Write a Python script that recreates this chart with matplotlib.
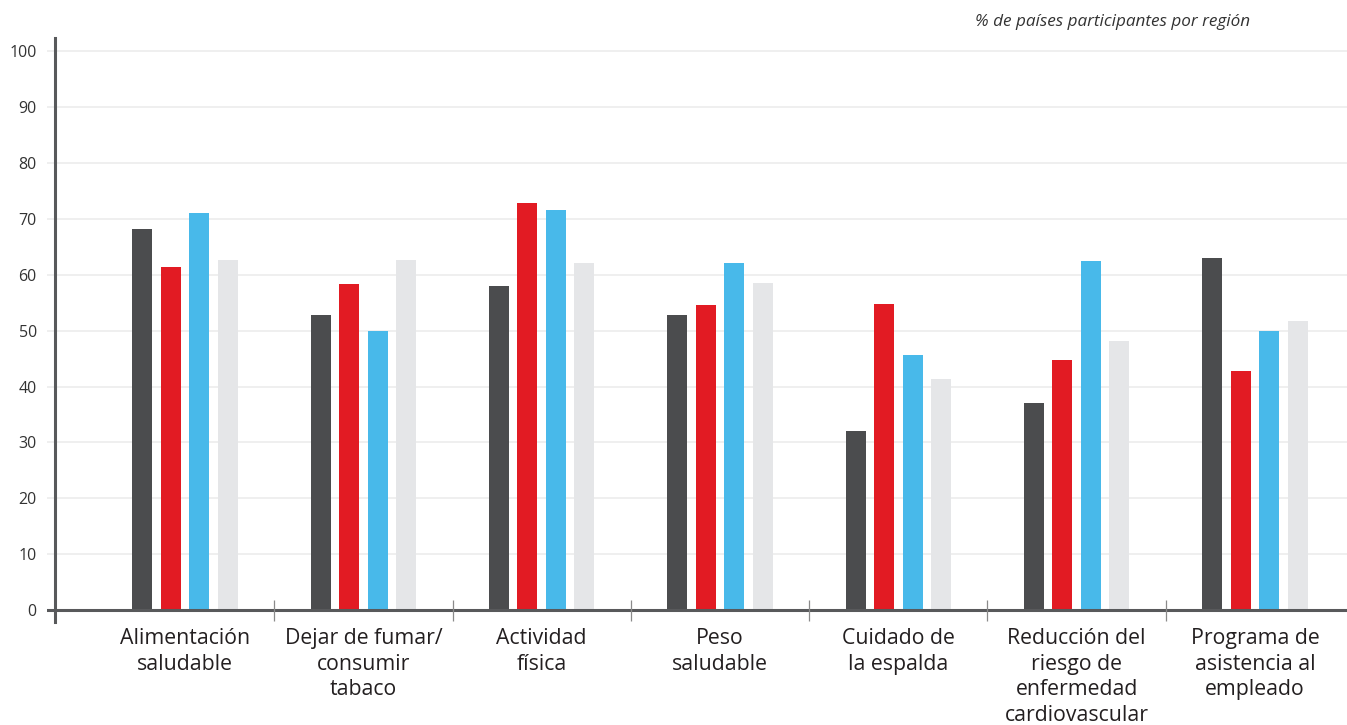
import numpy as np
import matplotlib.pyplot as plt

# categorias y valores (% de paises por region)
categories = ['Alimentación\nsaludable', 'Dejar de fumar/\nconsumir\ntabaco', 'Actividad\nfísica',
              'Peso\nsaludable', 'Cuidado de\nla espalda', 'Reducción del\nriesgo de\nenfermedad\ncardiovascular',
              'Programa de\nasistencia al\nempleado']
region_1 = [68.2, 52.8, 58.0, 52.8, 32.0, 37.0, 63.0]
region_2 = [61.4, 58.3, 72.8, 54.6, 54.7, 44.7, 42.8]
region_3 = [71.0, 49.9, 71.6, 62.1, 45.6, 62.4, 49.9]
region_4 = [62.6, 62.6, 62.1, 58.5, 41.3, 48.1, 51.7]
yticks = [0, 10, 20, 30, 40, 50, 60, 70, 80, 90, 100]

plt.rcParams['font.family'] = ['Open Sans', 'DejaVu Sans']

fig = plt.figure(figsize=(13.47, 7.25), dpi=100)
ax = fig.add_axes([47 / 1347, 103 / 725, 1 - 47 / 1347, (622 - 38) / 725])

x = np.arange(len(categories))
step = 0.16
width = 0.112
series = [region_1, region_2, region_3, region_4]
colors = ['#4b4c4e', '#e21b23', '#48b9ea', '#e5e6e8']
for k, (vals, c) in enumerate(zip(series, colors)):
    ax.bar(x + (k - 1.5) * step, vals, width, color=c, zorder=3)

for t in yticks[1:]:
    ax.axhline(t, color='#ebebeb', lw=1.1, zorder=1)
ax.axhline(0, color='#58595b', lw=2.2, zorder=4)
ax.vlines(x[:-1] + 0.5, -2.0, 1.8, color='#8a8a8a', lw=0.9, zorder=4)

ax.set_xlim(-0.774, 6.516)
ax.set_ylim(-2.15, 102.4)

for s in ['top', 'right', 'bottom']:
    ax.spines[s].set_visible(False)
ax.spines['left'].set_position(('data', -0.73))
ax.spines['left'].set_color('#58595b')
ax.spines['left'].set_linewidth(2.2)
ax.spines['left'].set_zorder(5)

ax.set_yticks(yticks)
ax.set_yticklabels([str(t) for t in yticks], fontsize=11.5, color='#333333')
ax.tick_params(axis='y', length=0, pad=13)
ax.set_xticks([])

for i, lab in enumerate(categories):
    ax.text(x[i], -3.3, lab, ha='center', va='top', fontsize=15.3, color='#231f20', linespacing=1.28)

fig.text(1250 / 1347, 1 - 22 / 725, '% de países participantes por región', ha='right', va='center',
         fontsize=12.3, style='italic', color='#333333')

fig.savefig('out.png', dpi=100)
